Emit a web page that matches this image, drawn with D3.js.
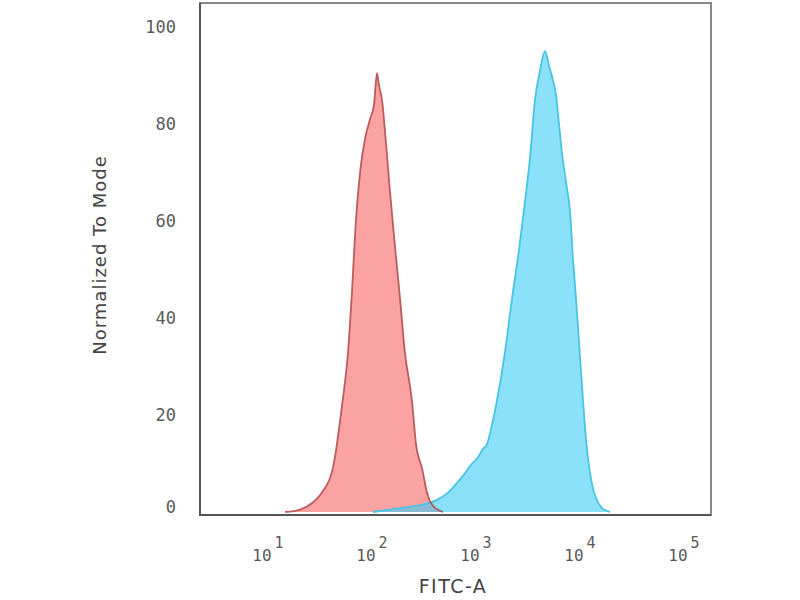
<!DOCTYPE html>
<meta charset="utf-8">
<head>
    <style>
        body, html {
            margin: 0;
            background: white;
            width: 100%;
            height: 100%;
        }
        .tick-label {
            font-family: "DejaVu Sans Mono", monospace;
            fill: #5a5a5a;
        }
        .axis-title {
            font-family: "DejaVu Sans", sans-serif;
            fill: #444;
        }
    </style>
    <script src="https://cdn.jsdelivr.net/npm/d3@7"></script>
</head>
<body>
<script>
    // fluorescence intensity (FITC-A) and normalized count
    var redFITC = [14.6, 20.3, 27.1, 33, 42, 51.5, 58.8, 64, 70, 76.7, 85.7, 95.7, 104.5, 111.7,
        116.7, 124.8, 136.4, 149, 166, 186, 207, 242, 265, 303, 338, 378, 482];
    var redMode = [0, 0.5, 2, 4, 9, 22, 33, 45, 60, 70, 77, 81, 84, 90.5,
        88, 85, 76, 66, 55, 44, 33, 23, 14, 9, 4, 1.5, 0];

    var blueFITC = [102, 186, 289, 422, 538, 656, 784, 916, 1023, 1167, 1276, 1425, 1592, 1901,
        2219, 2590, 2958, 3305, 3692, 4124, 4606, 5035, 5500, 5875, 6281, 6714, 7330, 8014,
        8570, 9160, 9780, 10690, 11420, 12480, 13640, 14900, 16290, 19420];
    var blueMode = [0, 0.8, 1.4, 2.5, 4, 6, 8, 10, 11, 13, 14, 18, 23, 33,
        44, 54, 64, 73, 85, 91, 95, 92, 89, 86, 80, 74, 68, 62,
        52, 44, 35, 23, 15, 8, 4, 2, 0.8, 0];

    var yTicks = [0, 20, 40, 60, 80, 100];
    var xTickExp = [1, 2, 3, 4, 5];

    var svg = d3.select("body").append("svg")
        .attr("width", 800)
        .attr("height", 600);

    var frame = {left: 200, right: 711, top: 3, bottom: 515};

    var x = d3.scaleLog().domain([10, 1e5]).range([268, 684]);
    var y = d3.scaleLinear().domain([0, 100]).range([512, 27]);

    var area = d3.area()
        .x(function(d){return x(d[0])})
        .y0(y(0))
        .y1(function(d){return y(d[1])})
        .curve(d3.curveMonotoneX);
    var line = d3.line()
        .x(function(d){return x(d[0])})
        .y(function(d){return y(d[1])})
        .curve(d3.curveMonotoneX);

    var redData = d3.zip(redFITC, redMode);
    var blueData = d3.zip(blueFITC, blueMode);

    var plot = svg.append("g");

    plot.append("path").datum(redData)
        .attr("d", area)
        .attr("fill", "rgb(248,100,100)")
        .attr("fill-opacity", 0.6);
    plot.append("path").datum(blueData)
        .attr("d", area)
        .attr("fill", "rgb(60,205,245)")
        .attr("fill-opacity", 0.6);

    plot.append("path").datum(blueData)
        .attr("d", line)
        .attr("fill", "none")
        .attr("stroke", "#48c4e4")
        .attr("stroke-width", 1.8);
    plot.append("path").datum(redData)
        .attr("d", line)
        .attr("fill", "none")
        .attr("stroke", "#b04848")
        .attr("stroke-opacity", 0.85)
        .attr("stroke-width", 1.8);

    // frame
    svg.append("rect")
        .attr("x", frame.left)
        .attr("y", frame.top)
        .attr("width", frame.right - frame.left)
        .attr("height", frame.bottom - frame.top)
        .attr("fill", "none")
        .attr("stroke", "#888")
        .attr("stroke-width", 2);
    svg.append("path")
        .attr("d", "M" + frame.left + "," + frame.top + "V" + frame.bottom + "H" + frame.right)
        .attr("fill", "none")
        .attr("stroke", "#555")
        .attr("stroke-width", 2);

    // y tick labels
    svg.selectAll(".ylab")
        .data(yTicks)
        .enter().append("text")
        .attr("class", "tick-label ylab")
        .attr("x", 176)
        .attr("y", function(d){return (d === 0 ? y(d) - 5 : y(d)) + 6})
        .attr("text-anchor", "end")
        .attr("font-size", 17)
        .text(function(d){return d});

    // x tick labels 10^n
    var xl = svg.selectAll(".xlab")
        .data(xTickExp)
        .enter().append("text")
        .attr("class", "tick-label xlab")
        .attr("x", function(d){return x(Math.pow(10, d))})
        .attr("y", 561)
        .attr("text-anchor", "middle")
        .attr("font-size", 16);
    xl.append("tspan").text("10");
    xl.append("tspan")
        .attr("dy", -13)
        .attr("dx", 3)
        .attr("font-size", 15)
        .text(function(d){return d});

    svg.append("text")
        .attr("class", "axis-title")
        .attr("x", 453)
        .attr("y", 593)
        .attr("text-anchor", "middle")
        .attr("font-size", 19)
        .attr("letter-spacing", 1.5)
        .text("FITC-A");

    svg.append("text")
        .attr("class", "axis-title")
        .attr("transform", "translate(106,255) rotate(-90)")
        .attr("text-anchor", "middle")
        .attr("font-size", 18)
        .attr("letter-spacing", 1)
        .text("Normalized To Mode");
</script>
</body>
